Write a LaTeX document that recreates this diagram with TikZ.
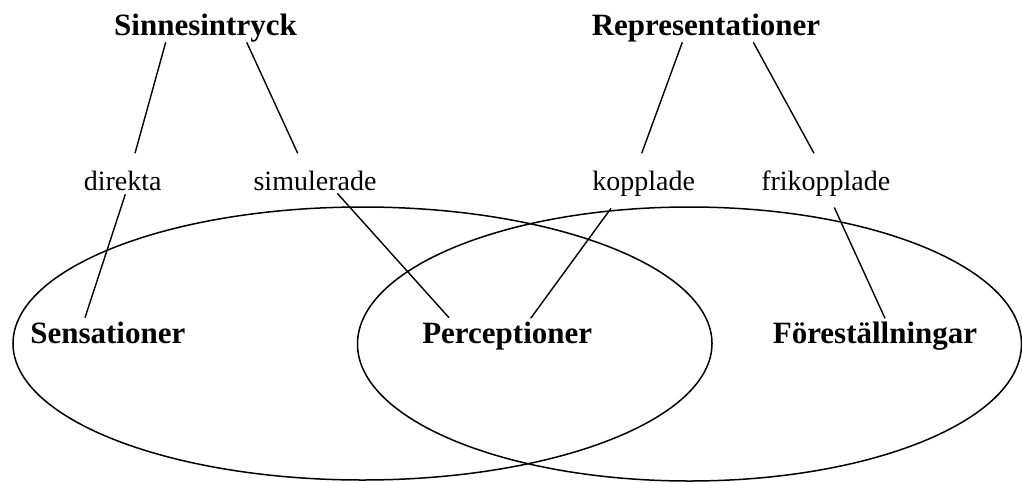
\documentclass[tikz,border=0pt]{standalone}
\usepackage{fontspec}
\setmainfont{Liberation Serif}
\usetikzlibrary{shapes.geometric}
\begin{document}
\begin{tikzpicture}[x=1pt,y=-1pt,
  big/.style={font=\fontsize{31}{36}\selectfont\bfseries, inner sep=0pt, anchor=base},
  small/.style={font=\fontsize{28}{33}\selectfont, inner sep=0pt, anchor=base},
  conn/.style={line width=1.4pt},
  oval/.style={ellipse, draw, line width=1.5pt, inner sep=0pt}]
\useasboundingbox (0,0) rectangle (1022,482);
\node[oval, minimum width=699pt, minimum height=273pt] (E1) at (362.5,343.5) {};
\node[oval, minimum width=664pt, minimum height=274pt] (E2) at (689.5,344) {};

\node[big] (S) at (205.5,35) {Sinnesintryck};
\node[big] (R) at (706,35) {Representationer};
\node[small] (dir) at (122.7,190.7) {direkta};
\node[small] (sim) at (315,190.7) {simulerade};
\node[small] (kop) at (643.7,190.7) {kopplade};
\node[small] (fri) at (825.8,190.7) {frikopplade};
\node[big] (sen) at (107.8,343.3) {Sensationer};
\node[big] (per) at (507.2,343.3) {Perceptioner};
\node[big] (for) at (875,343.3) {Föreställningar};

\draw[conn] ([shift={(-39.8,7.3)}]S.base) -- ([shift={(12.3,-37.4)}]dir.base);
\draw[conn] ([shift={(41.2,7.3)}]S.base) -- ([shift={(-17.3,-37.4)}]sim.base);
\draw[conn] ([shift={(2.6,3.6)}]dir.base) -- ([shift={(-22.8,-25.6)}]sen.base);
\draw[conn] ([shift={(22.3,2.6)}]sim.base) -- ([shift={(-58.2,-25.6)}]per.base);
\draw[conn] ([shift={(-23.7,7.3)}]R.base) -- ([shift={(-2,-37.4)}]kop.base);
\draw[conn] ([shift={(47.3,7.3)}]R.base) -- ([shift={(-11.8,-37.4)}]fri.base);
\draw[conn] ([shift={(-32.7,17.6)}]kop.base) -- ([shift={(23.5,-25)}]per.base);
\draw[conn] ([shift={(8.5,16.8)}]fri.base) -- ([shift={(10,-25)}]for.base);
\end{tikzpicture}
\end{document}
